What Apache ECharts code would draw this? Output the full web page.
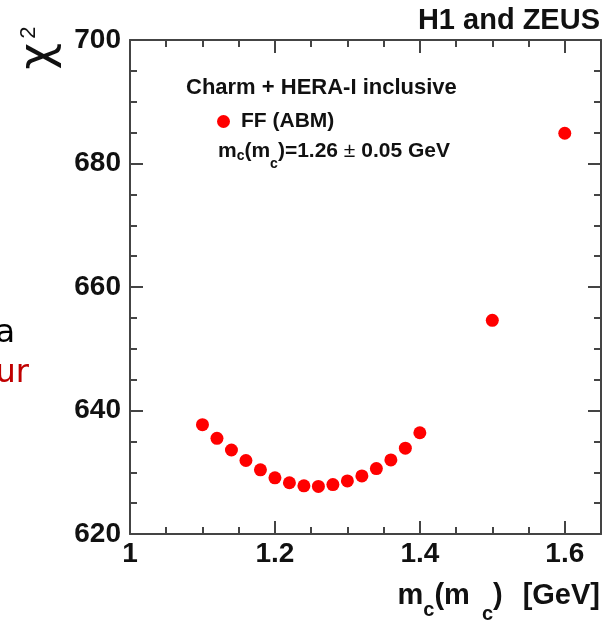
<!DOCTYPE html>
<html>
<head>
<meta charset="utf-8">
<title>chi2 scan of m_c(m_c)</title>
<script src="https://cdn.jsdelivr.net/npm/echarts@6/dist/echarts.min.js"></script>
<style>
  body { margin: 0; padding: 0; background: #fff; }
  #main { width: 614px; height: 621px; }
</style>
</head>
<body>
<div id="main"></div>
<script>
// scan points: m_c(m_c) in GeV and the chi2 of each fit
var mcValues = [1.10, 1.12, 1.14, 1.16, 1.18, 1.20, 1.22, 1.24, 1.26, 1.28,
                1.30, 1.32, 1.34, 1.36, 1.38, 1.40, 1.50, 1.60];
var chi2Values = [637.7, 635.5, 633.6, 631.9, 630.4, 629.1, 628.3, 627.8, 627.7, 628.0,
                  628.6, 629.4, 630.6, 632.0, 633.9, 636.4, 654.6, 684.9];
var xTickLabels = [1, 1.2, 1.4, 1.6];
var yTickLabels = [620, 640, 660, 680, 700];

var AX = '#444';
var FONT = '"Liberation Sans", Arial, sans-serif';

var points = mcValues.map(function (m, i) { return [m, chi2Values[i]]; });

// x axes: major ticks (0.2) and minor ticks (0.05), on bottom and on top
function xAxisDef(pos, interval, len, withLabel, withLine) {
  return {
    type: 'value', position: pos, min: 1, max: 1.65, interval: interval,
    axisLine: { show: withLine, onZero: false, lineStyle: { color: AX, width: 2 } },
    axisTick: { inside: true, length: len, lineStyle: { color: AX, width: 2 } },
    axisLabel: {
      show: withLabel, margin: 6, fontSize: 28, fontWeight: 'bold', fontFamily: FONT, color: '#111',
      formatter: function (v) {
        return xTickLabels.indexOf(+v.toFixed(2)) >= 0 ? String(+v.toFixed(2)) : '';
      }
    },
    splitLine: { show: false }
  };
}
function yAxisDef(pos, withLabel) {
  return {
    type: 'value', position: pos, min: 620, max: 700, interval: 20,
    axisLine: { show: true, onZero: false, lineStyle: { color: AX, width: 2 } },
    axisTick: { inside: true, length: 13, lineStyle: { color: AX, width: 2 } },
    minorTick: { show: true, splitNumber: 4, length: 7, lineStyle: { color: AX, width: 2 } },
    axisLabel: {
      show: withLabel, margin: 9, fontSize: 28, fontWeight: 'bold', fontFamily: FONT, color: '#111',
      formatter: function (v) { return yTickLabels.indexOf(v) >= 0 ? String(v) : ''; }
    },
    splitLine: { show: false }
  };
}

var chart = echarts.init(document.getElementById('main'));
chart.setOption({
  animation: false,
  backgroundColor: '#fff',
  grid: { left: 130, right: 13, top: 40, bottom: 87 },
  xAxis: [
    xAxisDef('bottom', 0.2, 13, true, true),
    xAxisDef('bottom', 0.05, 7, false, false),
    xAxisDef('top', 0.2, 13, false, true),
    xAxisDef('top', 0.05, 7, false, false)
  ],
  yAxis: [
    yAxisDef('left', true),
    yAxisDef('right', false)
  ],
  legend: {
    data: ['FF (ABM)'], left: 217, top: 111, padding: 0,
    icon: 'circle', itemWidth: 13, itemHeight: 13,
    textStyle: { fontSize: 21, fontWeight: 'bold', fontFamily: FONT, color: '#111', padding: [0, 0, 0, 6] }
  },
  series: [{
    name: 'FF (ABM)',
    type: 'scatter',
    xAxisIndex: 0, yAxisIndex: 0,
    symbolSize: 13,
    itemStyle: { color: '#ff0000', opacity: 1 },
    data: points
  }],
  graphic: [
    { type: 'text', x: 600, y: 21,
      style: { text: 'H1 and ZEUS', align: 'right', verticalAlign: 'middle',
               font: 'bold 29px ' + FONT, fill: '#111' } },
    { type: 'text', x: 40, y: 48, rotation: Math.PI / 2,
      style: { text: '{c|χ}{p|2}', align: 'center', verticalAlign: 'middle',
               rich: {
                 c: { fontSize: 46, fontFamily: '"DejaVu Sans", sans-serif', fill: '#111', lineHeight: 44, verticalAlign: 'bottom' },
                 p: { fontSize: 22, fontFamily: FONT, fill: '#111', lineHeight: 44, verticalAlign: 'top', padding: [0, 0, 0, 4] }
               } } },
    { type: 'text', x: 186, y: 88,
      style: { text: 'Charm + HERA-I inclusive', align: 'left', verticalAlign: 'middle',
               font: 'bold 22px ' + FONT, fill: '#111' } },
    { type: 'text', x: 218, y: 141,
      style: { text: '{t|m}{s|c}{t|(m}{s2|c}{t|)=1.26 }{pm|±}{t| 0.05 GeV}', align: 'left', verticalAlign: 'top',
               rich: {
                 t: { fontSize: 21, fontWeight: 'bold', fontFamily: FONT, fill: '#111', lineHeight: 24, verticalAlign: 'top' },
                 pm: { fontSize: 21, fontFamily: FONT, fill: '#111', lineHeight: 24, verticalAlign: 'top' },
                 s: { fontSize: 14, fontWeight: 'bold', fontFamily: FONT, fill: '#111', lineHeight: 2, verticalAlign: 'top', padding: [8, 0, 0, 0] },
                 s2: { fontSize: 14, fontWeight: 'bold', fontFamily: FONT, fill: '#111', lineHeight: 2, verticalAlign: 'top', padding: [16, 0, 0, 0] }
               } } },
    { type: 'text', x: 600, y: 581,
      style: { text: '{t|m}{s|c}{t|(m}{s2|c}{t|)}{g|[GeV]}', align: 'right', verticalAlign: 'top',
               rich: {
                 t: { fontSize: 29, fontWeight: 'bold', fontFamily: FONT, fill: '#111', lineHeight: 30, verticalAlign: 'top' },
                 g: { fontSize: 29, fontWeight: 'bold', fontFamily: FONT, fill: '#111', lineHeight: 30, verticalAlign: 'top', padding: [0, 0, 0, 20] },
                 s: { fontSize: 20, fontWeight: 'bold', fontFamily: FONT, fill: '#111', lineHeight: 2, verticalAlign: 'top', padding: [19, 0, 0, 0] },
                 s2: { fontSize: 20, fontWeight: 'bold', fontFamily: FONT, fill: '#111', lineHeight: 2, verticalAlign: 'top', padding: [23, 0, 0, 12] }
               } } },
    // text cut off at the left edge of the slide
    { type: 'text', x: 15, y: 334,
      style: { text: 'a', align: 'right', verticalAlign: 'middle',
               font: '32px "DejaVu Sans", sans-serif', fill: '#000' } },
    { type: 'text', x: 29, y: 374,
      style: { text: 'ur', align: 'right', verticalAlign: 'middle',
               font: '32px "DejaVu Sans", sans-serif', fill: '#c00000' } }
  ]
});
</script>
</body>
</html>
